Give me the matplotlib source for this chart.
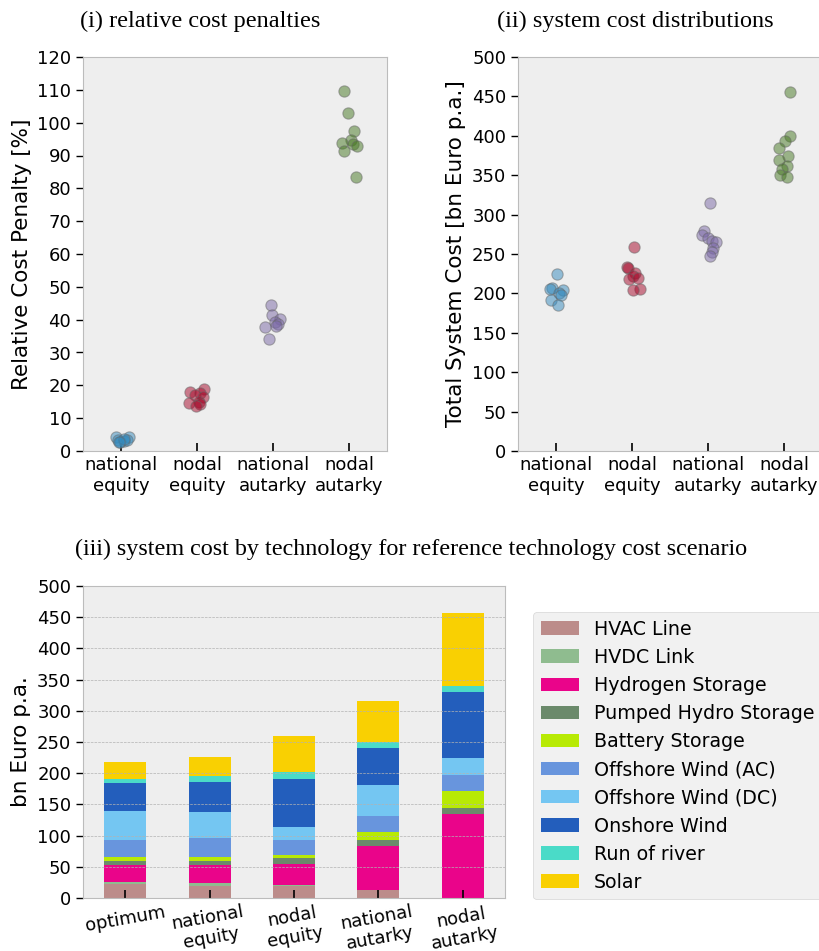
import matplotlib
matplotlib.use("Agg")
import matplotlib.pyplot as plt
import pandas as pd

# scatter data: relative cost penalty [%]
scenarios = ["national\nequity", "nodal\nequity", "national\nautarky", "nodal\nautarky"]
penalty_nat_eq = [4.2, 4.3, 3.5, 3.0, 2.7, 3.2, 3.8, 2.6]
penalty_nod_eq = [19.0, 18.0, 17.8, 17.2, 16.5, 15.0, 14.5, 14.2, 13.8]
penalty_nat_aut = [44.5, 41.5, 40.2, 39.3, 38.8, 38.0, 37.8, 34.0]
penalty_nod_aut = [109.5, 103.0, 97.5, 94.8, 93.8, 93.5, 93.0, 91.3, 83.3]

# total system cost [bn Euro p.a.]
cost_nat_eq = [225, 207, 205, 204, 201, 198, 191, 185]
cost_nod_eq = [259, 234, 232, 226, 222, 218, 219, 206, 204]
cost_nat_aut = [315, 279, 274, 270, 266, 265, 258, 252, 248]
cost_nod_aut = [456, 400, 393, 385, 375, 369, 362, 358, 350, 348]

# horizontal jitter of the strip plots (positions only)
jit_pen = [[-0.07, 0.10, -0.04, 0.04, -0.01, 0.08, 0.04, -0.03],
           [0.09, -0.09, 0.04, -0.02, 0.08, 0.02, -0.10, 0.04, -0.01],
           [-0.03, -0.01, 0.09, 0.02, 0.06, 0.04, -0.10, -0.05],
           [-0.06, -0.01, 0.07, 0.02, -0.09, 0.05, 0.10, -0.06, 0.09]]
jit_cost = [[0.01, -0.05, -0.08, 0.09, 0.04, 0.06, -0.07, 0.02],
            [0.03, -0.07, -0.05, 0.04, 0.01, -0.04, 0.08, 0.10, 0.01],
            [0.03, -0.05, -0.08, 0.00, 0.05, 0.10, 0.07, 0.05, 0.02],
            [0.08, 0.08, 0.01, -0.06, 0.05, -0.07, 0.04, -0.02, -0.05, 0.04]]

# stacked bars: cost by technology
bar_labels = ["optimum", "national\nequity", "nodal\nequity", "national\nautarky", "nodal\nautarky"]
techs = ["HVAC Line", "HVDC Link", "Hydrogen Storage", "Pumped Hydro Storage", "Battery Storage",
         "Offshore Wind (AC)", "Offshore Wind (DC)", "Onshore Wind", "Run of river", "Solar"]
hvac = [21.9, 19.8, 19.8, 13.0, 0.0]
hvdc = [4.3, 4.8, 0.4, 0.4, 0.0]
hydrogen = [26.2, 27.8, 34.4, 70.6, 135.4]
phs = [7.5, 7.5, 10.1, 9.6, 9.6]
battery = [6.4, 6.4, 4.9, 12.9, 25.7]
offwind_ac = [27.3, 30.5, 24.0, 25.7, 25.7]
offwind_dc = [46.6, 41.8, 20.9, 48.1, 27.2]
onwind = [43.3, 46.5, 77.0, 59.4, 106.0]
ror = [8.0, 9.7, 9.7, 10.2, 9.6]
solar = [25.7, 30.5, 57.8, 65.2, 117.2]
tech_colors = ["#bc8c8a", "#8fbc8f", "#ea048a", "#6b8a6b", "#b8ea04",
               "#6895dd", "#74c6f2", "#235ebc", "#4adbc8", "#f9d002"]

plt.style.use("bmh")
plt.rcParams["font.family"] = ["DejaVu Sans"]
plt.rcParams["xtick.direction"] = "in"
plt.rcParams["ytick.direction"] = "out"
plt.rcParams["xtick.color"] = "black"
plt.rcParams["ytick.color"] = "black"

W, H = 819, 951
fig = plt.figure(figsize=(W / 100, H / 100), dpi=100)


def px_axes(left, top, right, bottom):
    return fig.add_axes([left / W, 1 - bottom / H, (right - left) / W, (bottom - top) / H])


dot_colors = ["#348ABD", "#A60628", "#7A68A6", "#467821"]


def strip(ax, groups, jitters, ylim, step, ylabel):
    for i, (vals, jit) in enumerate(zip(groups, jitters)):
        xs = [i + j for j in jit]
        ax.scatter(xs, vals, s=66, color=dot_colors[i], alpha=0.5,
                   edgecolor="#666666", linewidth=0.8, zorder=3)
    ax.set_xlim(-0.5, 3.5)
    ax.set_ylim(*ylim)
    ax.set_yticks(range(ylim[0], ylim[1] + 1, step))
    ax.set_xticks(range(4))
    ax.set_xticklabels(scenarios)
    ax.grid(False)
    ax.set_ylabel(ylabel, fontsize=15.5, color="black")
    ax.tick_params(axis="both", labelsize=13)
    ax.tick_params(axis="y", length=5, width=1)
    ax.tick_params(axis="x", length=6, width=1.2)


ax1 = px_axes(83, 57, 387, 451)
strip(ax1, [penalty_nat_eq, penalty_nod_eq, penalty_nat_aut, penalty_nod_aut], jit_pen,
      (0, 120), 10, "Relative Cost Penalty [%]")

ax2 = px_axes(518, 57, 822, 451)
strip(ax2, [cost_nat_eq, cost_nod_eq, cost_nat_aut, cost_nod_aut], jit_cost,
      (0, 500), 50, "Total System Cost [bn Euro p.a.]")

ax3 = px_axes(83, 586, 505, 898)
df = pd.DataFrame({t: v for t, v in zip(techs, [hvac, hvdc, hydrogen, phs, battery, offwind_ac,
                                              offwind_dc, onwind, ror, solar])}, index=bar_labels)
df.plot.bar(stacked=True, ax=ax3, color=tech_colors, width=0.5, legend=False)
ax3.set_ylim(0, 500)
ax3.set_yticks(range(0, 501, 50))
ax3.grid(False)
ax3.yaxis.grid(True)
ax3.set_ylabel("bn Euro p.a.", fontsize=15.5, color="black")
ax3.set_xticklabels(bar_labels, rotation=10, ha="center")
ax3.tick_params(axis="both", labelsize=13)
ax3.tick_params(axis="y", length=5, width=1)
ax3.tick_params(axis="x", length=6, width=1.2)
ax3.legend(loc="upper left", bbox_to_anchor=(533 / W, 1 - 612 / H), bbox_transform=fig.transFigure,
           borderaxespad=0, fontsize=13.7, labelspacing=0.48)

serif = ["Liberation Serif", "DejaVu Serif"]
fig.text(200 / W, 1 - 21 / H, "(i) relative cost penalties", ha="center", va="center",
         fontsize=17.5, family=serif)
fig.text(635 / W, 1 - 21 / H, "(ii) system cost distributions", ha="center", va="center",
         fontsize=17.5, family=serif)
fig.text(411 / W, 1 - 549 / H, "(iii) system cost by technology for reference technology cost scenario",
         ha="center", va="center", fontsize=17.4, family=serif)

fig.savefig("out.png", dpi=100)
